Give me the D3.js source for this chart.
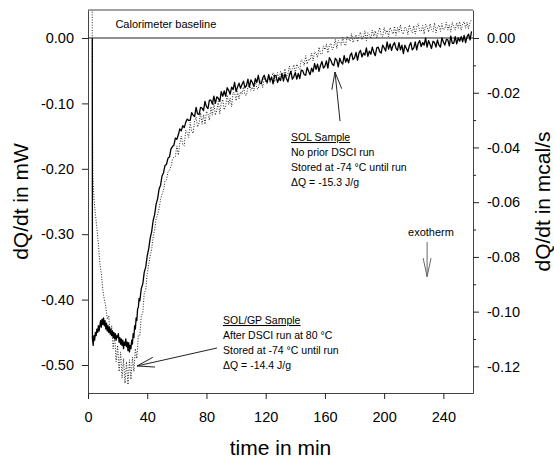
<!DOCTYPE html>
<html>
<head>
<meta charset="utf-8">
<script src="https://cdn.jsdelivr.net/npm/d3@7"></script>
<style>
  body { margin: 0; background: #fff; }
  svg { display: block; font-family: "Liberation Sans", Arial, Helvetica, sans-serif; }
</style>
</head>
<body>
<script>
const width = 554;
const height = 458;
const MW_PER_MCAL = 4.184;

// tick values
const timeTicks = [0, 40, 80, 120, 160, 200, 240];
const mwTicks = [0, -0.1, -0.2, -0.3, -0.4, -0.5];
const mcalTicks = [0, -0.02, -0.04, -0.06, -0.08, -0.10, -0.12];
const mcalMinor = [-0.01, -0.03, -0.05, -0.07, -0.09, -0.11];

// SOL sample (solid line), [time min, dQ/dt mW]
const solEarly = [
  [2.9, 0.0], [3.0, -0.46], [3.5, -0.47], [4, -0.455], [4.5, -0.462], [5, -0.45], [5.5, -0.455],
  [6, -0.445], [6.5, -0.45], [7, -0.44], [7.5, -0.448], [8, -0.44], [8.5, -0.432], [9, -0.442],
  [9.5, -0.43], [10, -0.438], [10.5, -0.428], [11, -0.44], [11.5, -0.432], [12, -0.445],
  [12.5, -0.436], [13, -0.448], [13.5, -0.44], [14, -0.45], [14.5, -0.442], [15, -0.452],
  [15.5, -0.445], [16, -0.455], [16.5, -0.448], [17, -0.458], [17.5, -0.45], [18, -0.46],
  [18.5, -0.452], [19, -0.462], [19.5, -0.455], [20, -0.458], [20.5, -0.452], [21, -0.465],
  [21.5, -0.458], [22, -0.468], [22.5, -0.46], [23, -0.47], [23.5, -0.462], [24, -0.475],
  [24.5, -0.465], [25, -0.47], [25.5, -0.46], [26, -0.472], [26.5, -0.465], [27, -0.478],
  [27.5, -0.466], [28, -0.48], [28.5, -0.47], [29, -0.475], [29.5, -0.462], [30, -0.468],
  [30.5, -0.452], [31, -0.458], [31.5, -0.44], [32, -0.445], [32.5, -0.428], [33, -0.432],
  [33.5, -0.414], [34, -0.412], [34.5, -0.398], [35, -0.402], [36, -0.383], [37, -0.376],
  [38, -0.358], [39, -0.35], [40, -0.333], [41, -0.322], [42, -0.306], [43, -0.296],
  [44, -0.279], [45, -0.270], [46, -0.254], [47, -0.246], [48, -0.231], [49, -0.225]
];
// from 50 min on, one reading per minute
const solLateStart = 50;
const solLate = [
  -0.211, -0.206, -0.195, -0.193, -0.184, -0.182, -0.170, -0.166, -0.164, -0.153,
  -0.155, -0.148, -0.139, -0.142, -0.134, -0.137, -0.129, -0.124, -0.126, -0.126,
  -0.114, -0.118, -0.120, -0.106, -0.116, -0.117, -0.106, -0.107, -0.111, -0.097,
  -0.105, -0.108, -0.095, -0.095, -0.101, -0.089, -0.100, -0.090, -0.092, -0.097,
  -0.082, -0.089, -0.081, -0.089, -0.076, -0.080, -0.086, -0.075, -0.079, -0.068,
  -0.082, -0.075, -0.069, -0.077, -0.071, -0.066, -0.076, -0.073, -0.063, -0.075,
  -0.064, -0.068, -0.074, -0.062, -0.068, -0.057, -0.069, -0.070, -0.061, -0.057,
  -0.064, -0.068, -0.056, -0.065, -0.060, -0.070, -0.057, -0.058, -0.068, -0.061,
  -0.065, -0.054, -0.066, -0.055, -0.062, -0.067, -0.057, -0.051, -0.063, -0.059,
  -0.053, -0.063, -0.054, -0.062, -0.049, -0.050, -0.056, -0.057, -0.045, -0.051,
  -0.056, -0.046, -0.052, -0.039, -0.048, -0.040, -0.051, -0.042, -0.036, -0.046,
  -0.043, -0.035, -0.046, -0.030, -0.034, -0.040, -0.042, -0.031, -0.034, -0.044,
  -0.031, -0.037, -0.040, -0.027, -0.037, -0.031, -0.038, -0.027, -0.023, -0.033,
  -0.030, -0.022, -0.034, -0.023, -0.019, -0.029, -0.023, -0.026, -0.015, -0.028,
  -0.020, -0.025, -0.014, -0.022, -0.027, -0.015, -0.014, -0.021, -0.023, -0.011,
  -0.015, -0.020, -0.006, -0.017, -0.009, -0.019, -0.011, -0.007, -0.016, -0.019,
  -0.007, -0.018, -0.011, -0.024, -0.011, -0.016, -0.021, -0.012, -0.007, -0.018,
  -0.015, -0.006, -0.018, -0.008, -0.004, -0.013, -0.007, -0.011, 0.000, -0.014,
  -0.004, -0.010, -0.016, -0.005, -0.007, -0.014, -0.003, -0.011, -0.014, 0.000,
  -0.006, -0.011, -0.002, -0.003, -0.012, 0.003, -0.008, -0.008, 0.002, -0.009,
  0.000, -0.005, 0.002, -0.006, 0.004, -0.007, 0.002, 0.006, -0.003, 0.010
];

// SOL/GP sample (dotted line)
const gpEarly = [
  [2.8, 0.06], [3.0, -0.12], [3.3, -0.21], [4, -0.245], [5, -0.27], [6, -0.29], [7, -0.315],
  [8, -0.345], [9, -0.36], [10, -0.385], [11, -0.40], [12, -0.41], [13, -0.43], [14, -0.425],
  [15, -0.455], [16, -0.44], [17, -0.475], [18, -0.455], [19, -0.495], [20, -0.47],
  [21, -0.51], [22, -0.48], [23, -0.52], [24, -0.49], [25, -0.528], [26, -0.495],
  [27, -0.53], [28, -0.492], [29, -0.522], [30, -0.488], [31, -0.51], [32, -0.475],
  [33, -0.49], [34, -0.455], [35, -0.455], [36, -0.425], [37, -0.42], [38, -0.39],
  [39, -0.385], [40, -0.36]
];
// from 42 min on, one reading per minute
const gpLateStart = 42;
const gpLate = [
  -0.333, -0.323, -0.304, -0.294, -0.277, -0.270, -0.261, -0.247, -0.239, -0.233,
  -0.219, -0.217, -0.205, -0.202, -0.197, -0.186, -0.182, -0.181, -0.165, -0.179,
  -0.161, -0.150, -0.163, -0.165, -0.141, -0.145, -0.152, -0.129, -0.142, -0.146,
  -0.127, -0.121, -0.136, -0.130, -0.114, -0.132, -0.117, -0.132, -0.112, -0.116,
  -0.126, -0.105, -0.118, -0.099, -0.118, -0.110, -0.097, -0.116, -0.100, -0.094,
  -0.110, -0.103, -0.087, -0.102, -0.092, -0.105, -0.083, -0.084, -0.096, -0.082,
  -0.093, -0.082, -0.086, -0.075, -0.087, -0.088, -0.075, -0.071, -0.080, -0.075,
  -0.081, -0.066, -0.077, -0.078, -0.065, -0.067, -0.076, -0.061, -0.067, -0.070,
  -0.057, -0.069, -0.059, -0.053, -0.067, -0.061, -0.053, -0.066, -0.051, -0.055,
  -0.059, -0.047, -0.059, -0.055, -0.043, -0.055, -0.047, -0.041, -0.054, -0.040,
  -0.045, -0.048, -0.033, -0.035, -0.042, -0.027, -0.040, -0.032, -0.034, -0.023,
  -0.035, -0.021, -0.023, -0.030, -0.014, -0.024, -0.025, -0.012, -0.018, -0.009,
  -0.023, -0.011, -0.008, -0.018, -0.013, -0.002, -0.016, -0.004, -0.006, -0.011,
  0.001, -0.009, -0.012, 0.003, -0.001, -0.005, 0.007, -0.007, -0.001, 0.005,
  -0.006, 0.004, 0.009, -0.003, 0.001, 0.011, -0.004, 0.008, 0.005, -0.001,
  0.012, 0.003, 0.011, 0.000, 0.009, 0.016, 0.004, 0.002, 0.016, 0.007,
  0.012, 0.002, 0.016, 0.011, 0.006, 0.018, 0.004, 0.016, 0.009, 0.020,
  0.008, 0.006, 0.017, 0.015, 0.005, 0.020, 0.012, 0.008, 0.019, 0.006,
  0.017, 0.022, 0.011, 0.010, 0.019, 0.006, 0.021, 0.017, 0.009, 0.022,
  0.013, 0.010, 0.023, 0.008, 0.017, 0.020, 0.010, 0.022, 0.012, 0.014,
  0.024, 0.012, 0.020, 0.009, 0.024, 0.017, 0.012, 0.023, 0.015, 0.025,
  0.012, 0.021, 0.025, 0.015, 0.024, 0.014, 0.024, 0.028
];

const solData = solEarly.concat(solLate.map((v, i) => [solLateStart + i, v]));
const gpData = gpEarly.concat(gpLate.map((v, i) => [gpLateStart + i, v]));

const margin = { top: 10, right: 81, bottom: 65, left: 88 };
const plotW = width - margin.left - margin.right;
const plotH = height - margin.top - margin.bottom;

const x = d3.scaleLinear().domain([0, 260]).range([margin.left, margin.left + plotW]);
const yMw = d3.scaleLinear().domain([-0.5428, 0.0428]).range([margin.top + plotH, margin.top]);
const yMcal = d3.scaleLinear()
  .domain(yMw.domain().map(d => d / MW_PER_MCAL))
  .range(yMw.range());

const svg = d3.select("body").append("svg")
  .attr("width", width)
  .attr("height", height);

svg.append("defs").append("clipPath")
  .attr("id", "plot-clip")
  .append("rect")
  .attr("x", margin.left)
  .attr("y", margin.top)
  .attr("width", plotW)
  .attr("height", plotH);

const fmt2 = d => (Math.abs(d) < 1e-9 ? 0 : d).toFixed(2);

// frame top
svg.append("line")
  .attr("x1", margin.left).attr("x2", margin.left + plotW)
  .attr("y1", margin.top).attr("y2", margin.top)
  .attr("stroke", "#444");

// axes
const xAxis = svg.append("g")
  .attr("transform", `translate(0,${margin.top + plotH})`)
  .call(d3.axisBottom(x).tickValues(timeTicks).tickFormat(d3.format("d"))
    .tickSize(6).tickSizeOuter(0).tickPadding(13));

const leftAxis = svg.append("g")
  .attr("transform", `translate(${margin.left},0)`)
  .call(d3.axisLeft(yMw).tickValues(mwTicks).tickFormat(fmt2)
    .tickSize(6).tickSizeOuter(0).tickPadding(8));

const rightAxis = svg.append("g")
  .attr("transform", `translate(${margin.left + plotW},0)`)
  .call(d3.axisRight(yMcal).tickValues(mcalTicks).tickFormat(fmt2)
    .tickSize(6).tickSizeOuter(0).tickPadding(8));

svg.append("g")
  .attr("transform", `translate(${margin.left + plotW},0)`)
  .call(d3.axisRight(yMcal).tickValues(mcalMinor).tickFormat("")
    .tickSize(3).tickSizeOuter(0))
  .select(".domain").remove();

[xAxis, leftAxis, rightAxis].forEach(g => {
  g.attr("font-family", null).attr("font-size", 14.5);
  g.selectAll("text").attr("fill", "#000");
});
svg.selectAll(".domain").attr("stroke", "#444");
svg.selectAll(".tick line").attr("stroke", "#222");

// calorimeter baseline at zero
svg.append("line")
  .attr("x1", margin.left).attr("x2", margin.left + plotW)
  .attr("y1", yMw(0)).attr("y2", yMw(0))
  .attr("stroke", "#222").attr("stroke-width", 1);

svg.append("text")
  .attr("x", x(18.5)).attr("y", 28)
  .attr("font-size", 11)
  .text("Calorimeter baseline");

// data lines
const line = d3.line().x(d => x(d[0])).y(d => yMw(d[1]));
const plot = svg.append("g").attr("clip-path", "url(#plot-clip)");

plot.append("path")
  .datum(gpData)
  .attr("fill", "none")
  .attr("stroke", "#222")
  .attr("stroke-width", 1)
  .attr("stroke-dasharray", "1,1.6")
  .attr("d", line);

plot.append("path")
  .datum(solData)
  .attr("fill", "none")
  .attr("stroke", "#000")
  .attr("stroke-width", 1.3)
  .attr("stroke-linejoin", "round")
  .attr("d", line);

// arrows
function arrow(tail, tip, wingAngle, wingLen, color) {
  const [x0, y0] = [x(tail[0]), yMw(tail[1])];
  const [x1, y1] = [x(tip[0]), yMw(tip[1])];
  const ang = Math.atan2(y0 - y1, x0 - x1);
  const a = wingAngle * Math.PI / 180;
  const g = svg.append("g").attr("stroke", color).attr("stroke-width", 1).attr("fill", "none");
  g.append("line").attr("x1", x0).attr("y1", y0).attr("x2", x1).attr("y2", y1);
  [ang - a, ang + a].forEach(t => {
    g.append("line").attr("x1", x1).attr("y1", y1)
      .attr("x2", x1 + wingLen * Math.cos(t)).attr("y2", y1 + wingLen * Math.sin(t));
  });
}

arrow([170.2, -0.127], [166.8, -0.052], 16, 18, "#222");
arrow([87.1, -0.474], [33.1, -0.5015], 16, 18, "#222");
arrow([229, -0.312], [229, -0.365], 12, 19, "#666");

// annotation blocks
function note(x0, y0, lines) {
  const t = svg.append("text").attr("font-size", 10.5).attr("fill", "#000");
  lines.forEach((s, i) => {
    t.append("tspan")
      .attr("x", x0).attr("y", y0 + i * 15)
      .attr("text-decoration", i === 0 ? "underline" : null)
      .text(s);
  });
}

note(291, 141, ["SOL Sample", "No prior DSCI run", "Stored at -74 °C until run", "ΔQ = -15.3 J/g"]);
note(223, 324, ["SOL/GP Sample", "After DSCI run at 80 °C", "Stored at -74 °C until run", "ΔQ = -14.4 J/g"]);

svg.append("text")
  .attr("x", 431).attr("y", 236)
  .attr("text-anchor", "middle")
  .attr("font-size", 11)
  .text("exotherm");

// axis titles
svg.append("text")
  .attr("x", margin.left + plotW / 2).attr("y", 455)
  .attr("text-anchor", "middle")
  .attr("font-size", 21)
  .text("time in min");

svg.append("text")
  .attr("transform", `translate(28,${margin.top + plotH / 2}) rotate(-90)`)
  .attr("text-anchor", "middle")
  .attr("font-size", 21)
  .text("dQ/dt in mW");

svg.append("text")
  .attr("transform", `translate(550,${margin.top + plotH / 2}) rotate(-90)`)
  .attr("text-anchor", "middle")
  .attr("font-size", 21)
  .text("dQ/dt in mcal/s");
</script>
</body>
</html>
